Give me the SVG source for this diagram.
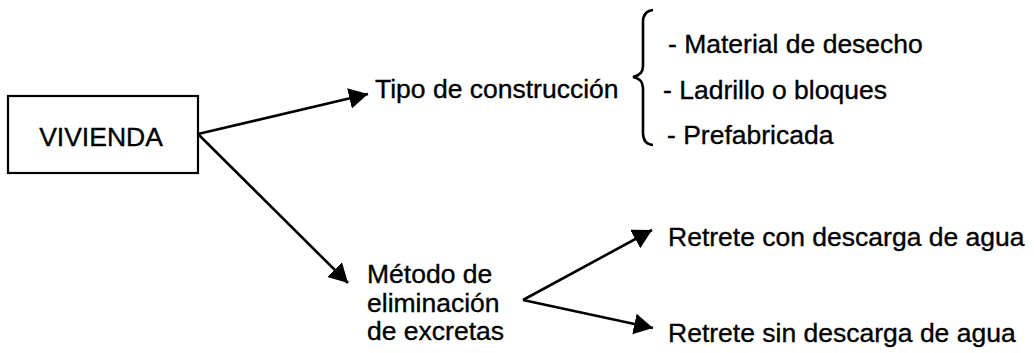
<svg xmlns="http://www.w3.org/2000/svg" width="1034" height="353" viewBox="0 0 1034 353">
<style>
text{font-family:"Liberation Sans",Arial,sans-serif;font-size:26.5px;fill:#000;stroke:#000;stroke-width:0.35}
.c{stroke:#000;stroke-width:2.6;fill:none}
</style>
<defs>
<marker id="ah" markerUnits="userSpaceOnUse" markerWidth="22" markerHeight="22" refX="19" refY="10.5" orient="auto">
<path d="M0,0 L19,10.5 L0,21 z" fill="#000"/>
</marker>
</defs>
<rect width="1034" height="353" fill="#fff"/>
<g id="connectors">
<line class="c" x1="198" y1="134" x2="368" y2="94" marker-end="url(#ah)"/>
<line class="c" x1="198" y1="134" x2="348" y2="283" marker-end="url(#ah)"/>
<line class="c" x1="523" y1="300" x2="652" y2="230" marker-end="url(#ah)"/>
<line class="c" x1="523" y1="300" x2="653" y2="328" marker-end="url(#ah)"/>
<path class="c" stroke-width="2.2" d="M653,10 Q643,11 643,22 L643,66 Q643,75 633,77 Q643,79 643,88 L643,133 Q643,144 653,145"/>
</g>
<g id="vivienda">
<rect x="8" y="96" width="190" height="77" fill="none" stroke="#000" stroke-width="2.2"/>
<text x="101" y="146" text-anchor="middle">VIVIENDA</text>
</g>
<g id="tipo">
<text x="375" y="98">Tipo de construcción</text>
</g>
<g id="material"><text x="668" y="53">- Material de desecho</text></g>
<g id="ladrillo"><text x="663" y="99">- Ladrillo o bloques</text></g>
<g id="prefabricada"><text x="667" y="144">- Prefabricada</text></g>
<g id="metodo">
<text x="367" y="283">Método de</text>
<text x="367" y="312">eliminación</text>
<text x="367" y="340">de excretas</text>
</g>
<g id="con"><text x="668" y="246">Retrete con descarga de agua</text></g>
<g id="sin"><text x="668" y="342">Retrete sin descarga de agua</text></g>
</svg>
